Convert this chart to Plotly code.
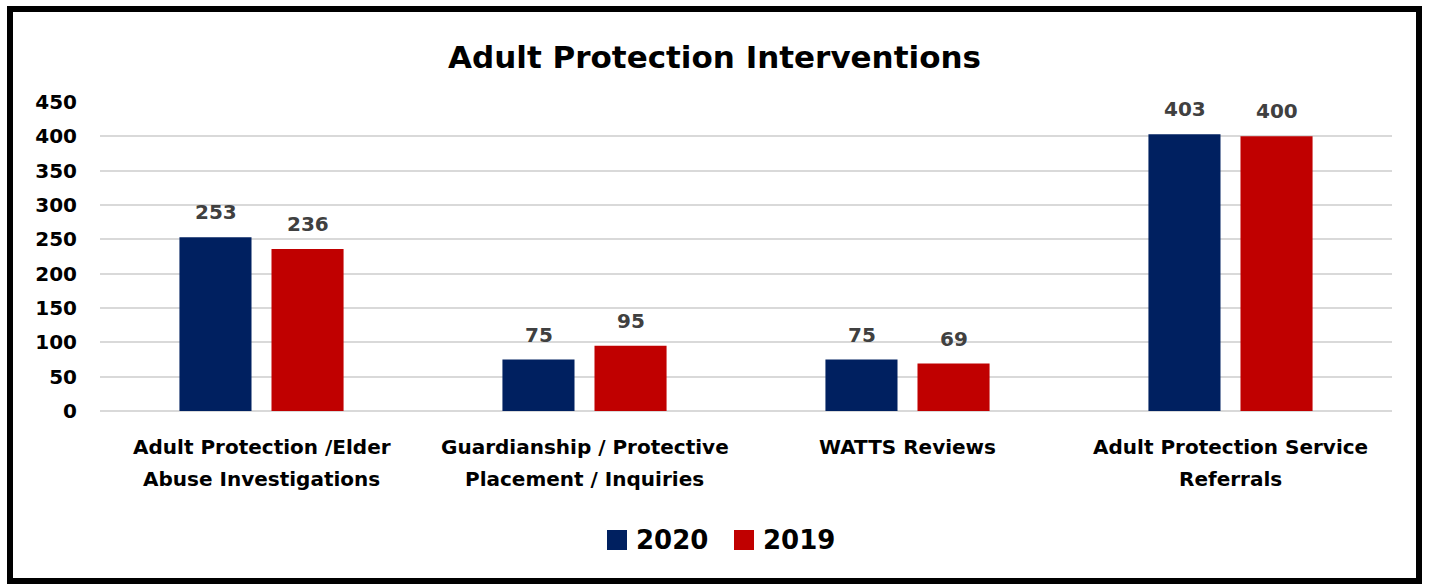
import plotly.graph_objects as go

# Chart data
categories = [
    "Adult Protection /Elder<br>Abuse Investigations",
    "Guardianship / Protective<br>Placement / Inquiries",
    "WATTS Reviews",
    "Adult Protection Service<br>Referrals",
]
series_names = ["2020", "2019"]
values_2020 = [253, 75, 75, 403]
values_2019 = [236, 95, 69, 400]
y_ticks = [0, 50, 100, 150, 200, 250, 300, 350, 400, 450]

colors = ["#002060", "#C00000"]
FONT = "DejaVu Sans"

W, H = 1429, 584
ML, MR, MT, MB = 100, 37, 102, 173
PW, PH = W - ML - MR, H - MT - MB


def px_x(p):
    return (p - ML) / PW


def px_y(p):
    return (H - MB - p) / PH


fig = go.Figure()
for name, vals, col in zip(series_names, [values_2020, values_2019], colors):
    fig.add_trace(go.Bar(
        x=categories, y=vals, name=name,
        marker=dict(color=col, line=dict(width=0)),
        showlegend=False,
    ))

annotations = []

# value labels above each bar
offsets = [-46, 46]
for vals, off in zip([values_2020, values_2019], offsets):
    for cat, v in zip(categories, vals):
        annotations.append(dict(
            x=cat, y=v, xref="x", yref="y", xshift=off, yshift=11,
            text=f"<b>{v}</b>", showarrow=False, yanchor="bottom",
            font=dict(family=FONT, size=20, color="#404040"),
        ))

# category labels, one annotation per line for wider line spacing
for cat in categories:
    for i, line in enumerate(cat.split("<br>")):
        annotations.append(dict(
            x=cat, y=px_y(447 + 32 * i), xref="x", yref="paper",
            text=f"<b>{line}</b>", showarrow=False, yanchor="middle",
            font=dict(family=FONT, size=20, color="#000000"),
        ))

# custom legend: square swatches with labels
legend_x = [607, 734]
shapes = []
for name, col, lx in zip(series_names, colors, legend_x):
    shapes.append(dict(
        type="rect", xref="paper", yref="paper",
        x0=px_x(lx), x1=px_x(lx + 20), y0=px_y(550), y1=px_y(530),
        fillcolor=col, line=dict(width=0),
    ))
    annotations.append(dict(
        x=px_x(lx + 27), y=px_y(540), xref="paper", yref="paper",
        text=f"<b>{name}</b>", showarrow=False, xanchor="left", yanchor="middle",
        font=dict(family=FONT, size=26, color="#000000"),
    ))

# outer frame
shapes.append(dict(
    type="rect", xref="paper", yref="paper",
    x0=px_x(10), x1=px_x(1419), y0=px_y(581), y1=px_y(9),
    line=dict(color="#000000", width=6), fillcolor="rgba(0,0,0,0)", layer="above",
))

fig.update_layout(
    width=W, height=H,
    margin=dict(l=ML, r=MR, t=MT, b=MB, pad=0),
    paper_bgcolor="white", plot_bgcolor="white",
    title=dict(
        text="<b>Adult Protection Interventions</b>",
        x=0.5, xanchor="center", xref="container",
        y=1 - 57 / H, yanchor="middle", yref="container",
        font=dict(family=FONT, size=31, color="#000000"),
    ),
    barmode="group", bargap=0.43, bargroupgap=0.217,
    xaxis=dict(
        showgrid=False, showline=False, ticks="",
        showticklabels=False,
    ),
    yaxis=dict(
        range=[0, 450], tickvals=y_ticks,
        ticktext=[f"<b>{t}</b>" for t in y_ticks],
        showgrid=True, gridcolor="#D9D9D9", gridwidth=1.5,
        zeroline=True, zerolinecolor="#D9D9D9", zerolinewidth=1.5,
        showline=False, ticks="",
        tickfont=dict(family=FONT, size=20, color="#000000"),
        ticklabelstandoff=22,
    ),
    annotations=annotations,
    shapes=shapes,
)

fig.write_html("out.html")
